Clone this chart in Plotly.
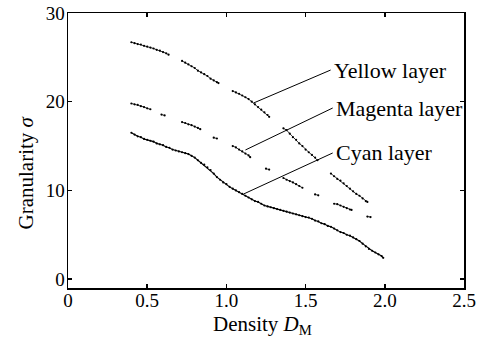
import plotly.graph_objects as go

# ---- data ----
cyan_x = [0.40,0.42,0.44,0.46,0.48,0.50,0.52,0.54,0.56,0.58,0.60,0.62,0.64,0.66,0.68,0.70,0.72,0.74,0.76,0.78,
          0.80,0.82,0.84,0.86,0.88,0.90,0.92,0.94,0.96,0.98,1.00,1.02,1.04,1.06,1.08,1.10,1.12,1.14,1.16,1.18,
          1.20,1.22,1.24,1.26,1.28,1.30,1.32,1.34,1.36,1.38,1.40,1.42,1.44,1.46,1.48,1.50,1.52,1.54,1.56,1.58,
          1.60,1.62,1.64,1.66,1.68,1.70,1.72,1.74,1.76,1.78,1.80,1.82,1.84,1.86,1.88,1.90,1.92,1.94,1.96,1.98,1.99]
cyan_y = [16.5,16.3,16.1,16.0,15.8,15.7,15.6,15.5,15.3,15.2,15.1,14.9,14.8,14.6,14.5,14.4,14.3,14.2,14.1,13.9,
          13.7,13.4,13.1,12.9,12.6,12.3,11.9,11.5,11.2,10.9,10.7,10.4,10.2,10.0,9.8,9.6,9.4,9.2,9.0,8.8,
          8.7,8.5,8.3,8.2,8.1,8.0,7.9,7.8,7.7,7.6,7.5,7.4,7.3,7.2,7.1,7.0,6.95,6.8,6.6,6.5,
          6.3,6.2,6.0,5.9,5.7,5.5,5.3,5.2,5.0,4.9,4.7,4.5,4.3,4.0,3.7,3.4,3.2,3.0,2.8,2.6,2.4]

# None marks a gap between measured segments
yellow_x = [0.40,0.42,0.44,0.46,0.48,0.50,0.52,0.54,0.56,0.58,0.60,0.62,0.635, None,
            0.72,0.74,0.76,0.78,0.80,0.82,0.84,0.86,0.88,0.90,0.92,0.94,0.95, None,
            1.04,1.06,1.08,1.10,1.12,1.14,1.16,1.18,1.20,1.22,1.24,1.26,1.27, None,
            1.36,1.38,1.40,1.42,1.44,1.46,1.48,1.50,1.52,1.54,1.56,1.575, None,
            1.66,1.68,1.70,1.72,1.74,1.76,1.78,1.80,1.82,1.84,1.86,1.88,1.89]
yellow_y = [26.7,26.6,26.5,26.45,26.3,26.2,26.1,26.0,25.85,25.75,25.6,25.45,25.3, None,
            24.6,24.4,24.2,24.0,23.8,23.5,23.3,23.1,22.9,22.6,22.4,22.2,22.1, None,
            21.2,21.05,20.9,20.7,20.5,20.3,20.0,19.7,19.4,19.1,18.8,18.5,18.3, None,
            17.0,16.8,16.4,16.0,15.7,15.3,15.0,14.6,14.3,14.0,13.7,13.4, None,
            11.9,11.6,11.3,11.1,10.8,10.5,10.2,9.9,9.6,9.4,9.1,8.8,8.7]

magenta_x = [0.40,0.42,0.44,0.46,0.48,0.50,0.52, None, 0.59,0.61, None,
             0.72,0.74,0.76,0.78,0.80,0.82,0.835, None, 0.92,0.94, None,
             1.04,1.06,1.08,1.10,1.12,1.14,1.15, None, 1.25,1.27, None,
             1.36,1.38,1.40,1.42,1.44,1.46,1.48, None, 1.56,1.58, None,
             1.68,1.70,1.72,1.74,1.76,1.78,1.79, None, 1.89,1.91]
magenta_y = [19.8,19.7,19.65,19.5,19.4,19.25,19.15, None, 18.55,18.45, None,
             17.7,17.6,17.45,17.35,17.2,17.05,16.9, None, 15.95,15.85, None,
             15.0,14.85,14.6,14.4,14.15,13.95,13.75, None, 12.45,12.35, None,
             11.4,11.2,11.05,10.9,10.7,10.5,10.3, None, 9.55,9.45, None,
             8.5,8.45,8.3,8.15,8.0,7.85,7.8, None, 7.05,7.0]

labels = ["Yellow layer", "Magenta layer", "Cyan layer"]
# leader line: point on curve -> label end
leader_from_x = [1.171, 1.12, 1.108]
leader_from_y = [19.85, 14.56, 9.59]
leader_to_x = [1.658, 1.671, 1.671]
leader_to_y = [23.57, 19.29, 14.22]

x_tickvals = [0, 0.5, 1.0, 1.5, 2.0, 2.5]
x_ticktext = ["0", "0.5", "1.0", "1.5", "2.0", "2.5"]
y_tickvals = [0, 10, 20, 30]

FONT = "Liberation Serif"

fig = go.Figure()
for xs, ys, w in [(yellow_x, yellow_y, 0.8), (magenta_x, magenta_y, 0.8), (cyan_x, cyan_y, 1.1)]:
    fig.add_trace(go.Scatter(x=xs, y=ys, mode="lines+markers",
                             line=dict(color="black", width=w),
                             marker=dict(color="black", size=2.2),
                             connectgaps=False, showlegend=False, hoverinfo="skip"))

for i, lab in enumerate(labels):
    fig.add_shape(type="line", xref="x", yref="y",
                  x0=leader_from_x[i], y0=leader_from_y[i],
                  x1=leader_to_x[i], y1=leader_to_y[i],
                  line=dict(color="black", width=1))
    fig.add_annotation(x=leader_to_x[i], y=leader_to_y[i], xref="x", yref="y",
                       text=lab, showarrow=False, xanchor="left", yanchor="middle",
                       xshift=1, font=dict(family=FONT, size=22, color="black"))

# axis titles
fig.add_annotation(x=0.5, y=0, xref="paper", yref="paper", yshift=-37, xshift=-4,
                   text="Density <i>D</i><sub>M</sub>", showarrow=False,
                   xanchor="center", yanchor="middle",
                   font=dict(family=FONT, size=21, color="black"))
fig.add_annotation(x=0, y=0.5, xref="paper", yref="paper", xshift=-43, yshift=-22,
                   text="Granularity <i>σ</i>", showarrow=False, textangle=-90,
                   xanchor="center", yanchor="middle",
                   font=dict(family=FONT, size=21, color="black"))

axis_common = dict(showline=True, linecolor="black", linewidth=1.5, mirror="ticks",
                   ticks="inside", ticklen=4, tickcolor="black", tickwidth=1.5,
                   showgrid=False, zeroline=False, automargin=False,
                   tickfont=dict(family=FONT, size=19, color="black"))

fig.update_xaxes(range=[0, 2.5], tickvals=x_tickvals, ticktext=x_ticktext,
                 ticklabelstandoff=-5, **axis_common)
fig.update_yaxes(range=[-1, 30], tickvals=y_tickvals,
                 ticklabelstandoff=-2, **axis_common)

fig.update_layout(width=478, height=340, margin=dict(l=68, r=14, t=13, b=52),
                  plot_bgcolor="white", paper_bgcolor="white", hovermode=False)

fig.write_html("out.html", config={"displayModeBar": False, "staticPlot": True},
               post_script="document.body.style.margin='0px';document.body.style.overflow='hidden';")
